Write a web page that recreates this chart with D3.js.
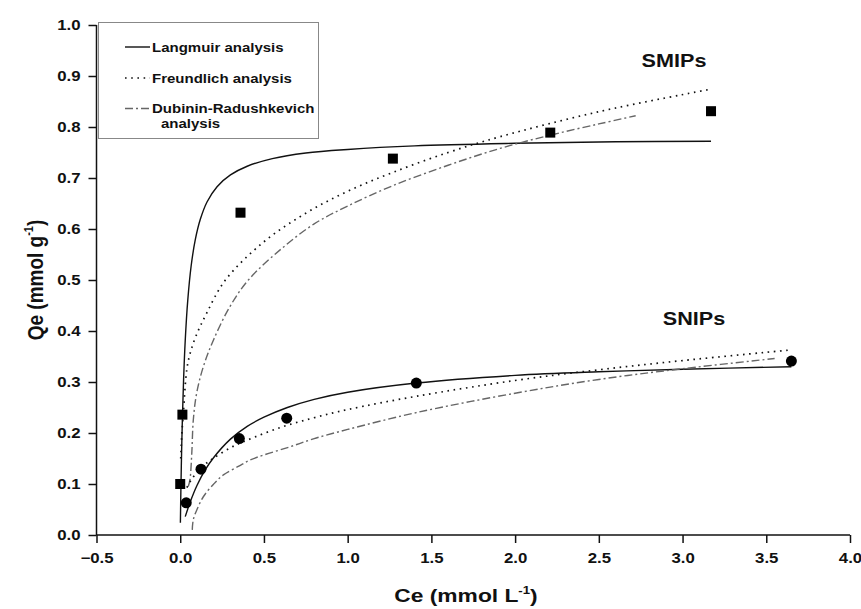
<!DOCTYPE html>
<html><head><meta charset="utf-8">
<script src="https://cdn.jsdelivr.net/npm/d3@7"></script>
<style>body{margin:0;background:#fff}svg{display:block}text{font-family:"Liberation Sans",Arial,sans-serif;font-weight:bold;fill:#111}</style>
</head><body>
<svg id="c" width="861" height="609"></svg>
<script>
// Measured points
const smipsCe = [0.0, 0.013, 0.36, 1.27, 2.21, 3.17];
const smipsQe = [0.100, 0.236, 0.632, 0.738, 0.789, 0.831];
const snipsCe = [0.036, 0.124, 0.353, 0.636, 1.41, 3.65];
const snipsQe = [0.063, 0.129, 0.189, 0.229, 0.298, 0.341];
// Fitted curves
const langSmX = [0.001,0.004,0.008,0.013,0.02,0.03,0.045,0.065,0.09,0.12,0.16,0.22,0.3,0.4,0.55,0.75,1.0,1.4,2.0,2.6,3.17];
const langSmY = [0.024,0.089,0.159,0.229,0.304,0.382,0.46,0.527,0.579,0.619,0.653,0.683,0.706,0.723,0.738,0.749,0.756,0.763,0.768,0.771,0.772];
const freuSmX = [0.003,0.01,0.019,0.039,0.059,0.094,0.158,0.27,0.5,0.75,1.0,1.27,1.6,1.91,2.5,3.15];
const freuSmY = [0.15,0.2,0.24,0.324,0.356,0.39,0.435,0.5,0.575,0.631,0.674,0.711,0.75,0.781,0.83,0.873];
const drSmX = [0.048,0.058,0.069,0.078,0.098,0.138,0.198,0.297,0.407,0.6,0.8,1.0,1.27,1.6,1.91,2.21,2.5,2.72];
const drSmY = [0.095,0.108,0.16,0.225,0.278,0.33,0.382,0.448,0.5,0.56,0.61,0.645,0.685,0.725,0.758,0.784,0.806,0.822];
const langSnX = [0.03,0.06,0.1,0.15,0.2,0.3,0.4,0.5,0.64,0.8,1.0,1.41,2.0,2.5,3.0,3.65];
const langSnY = [0.036,0.065,0.097,0.128,0.152,0.188,0.213,0.231,0.25,0.266,0.28,0.298,0.313,0.32,0.325,0.33];
const freuSnX = [0.04,0.06,0.1,0.15,0.2,0.3,0.4,0.6,0.8,1.0,1.41,2.0,2.5,3.0,3.65];
const freuSnY = [0.093,0.105,0.123,0.139,0.151,0.171,0.186,0.211,0.23,0.246,0.272,0.303,0.324,0.342,0.363];
const drSnX = [0.072,0.078,0.1,0.138,0.2,0.258,0.35,0.417,0.5,0.656,0.8,1.0,1.41,2.0,2.5,3.0,3.55];
const drSnY = [0.01,0.03,0.05,0.075,0.1,0.118,0.135,0.147,0.157,0.173,0.189,0.207,0.24,0.278,0.305,0.326,0.346];
const xTicks = [-0.5,0.0,0.5,1.0,1.5,2.0,2.5,3.0,3.5,4.0];
const yTicks = [0.0,0.1,0.2,0.3,0.4,0.5,0.6,0.7,0.8,0.9,1.0];
const legendLabels = ["Langmuir analysis","Freundlich analysis","Dubinin-Radushkevich"];

const SX = 1.2; // horizontal text stretch
const svg = d3.select("#c");
const x = d3.scaleLinear().domain([-0.5,4.0]).range([96.5,850]);
const y = d3.scaleLinear().domain([0,1]).range([535,25]);

// minor ticks
const gx = svg.append("g").attr("transform","translate(0,535)");
gx.call(d3.axisBottom(x).tickValues(d3.range(-0.25,4.0,0.5)).tickSize(5).tickFormat(""));
gx.call(d3.axisBottom(x).tickValues(xTicks).tickSize(8).tickFormat(d3.format(".1f")));
gx.selectAll("path,line").attr("stroke","#111").attr("stroke-width",1.5);
gx.selectAll("text").attr("y",28).attr("dy",0).attr("font-size",14).attr("font-family","Liberation Sans, Arial, sans-serif").attr("font-weight","bold").attr("fill","#111").attr("transform",`scale(${SX},1)`);
gx.select(".domain").attr("d","M96.5,0H850");

const gy = svg.append("g").attr("transform","translate(96.5,0)");
gy.call(d3.axisLeft(y).tickValues(d3.range(0.05,1.0,0.1)).tickSize(5).tickFormat(""));
gy.call(d3.axisLeft(y).tickValues(yTicks).tickSize(8).tickFormat(d3.format(".1f")));
gy.selectAll("path,line").attr("stroke","#111").attr("stroke-width",1.5);
gy.selectAll("text").attr("x",-16/SX).attr("dy","0.35em").attr("font-size",14).attr("font-family","Liberation Sans, Arial, sans-serif").attr("font-weight","bold").attr("fill","#111").attr("transform",`scale(${SX},1)`);
gy.select(".domain").attr("d","M0,25V535");

// curves
const line = d3.line().x(d=>x(d[0])).y(d=>y(d[1])).curve(d3.curveCatmullRom.alpha(0.5));
const zip = (a,b)=>a.map((v,i)=>[v,b[i]]);
const styles = {
  lang:{stroke:"#111",w:1.4,dash:null},
  freu:{stroke:"#111",w:1.7,dash:"1.6,4.6"},
  dr:{stroke:"#666",w:1.4,dash:"8,3,2,3"}
};
function drawCurve(xs,ys,s){
  svg.append("path").attr("d",line(zip(xs,ys))).attr("fill","none")
    .attr("stroke",s.stroke).attr("stroke-width",s.w).attr("stroke-dasharray",s.dash);
}
drawCurve(langSmX,langSmY,styles.lang);
drawCurve(freuSmX,freuSmY,styles.freu);
drawCurve(drSmX,drSmY,styles.dr);
drawCurve(langSnX,langSnY,styles.lang);
drawCurve(freuSnX,freuSnY,styles.freu);
drawCurve(drSnX,drSnY,styles.dr);

// markers
svg.append("g").selectAll("rect").data(zip(smipsCe,smipsQe)).join("rect")
  .attr("x",d=>x(d[0])-5).attr("y",d=>y(d[1])-5).attr("width",10).attr("height",10).attr("fill","#000");
svg.append("g").selectAll("circle").data(zip(snipsCe,snipsQe)).join("circle")
  .attr("cx",d=>x(d[0])).attr("cy",d=>y(d[1])).attr("r",5.5).attr("fill","#000");

// labels
function stext(tx,ty,str,size,anchor){
  return svg.append("text").attr("transform",`translate(${tx},${ty}) scale(${SX},1)`)
    .attr("font-size",size).attr("text-anchor",anchor||"start").text(str);
}
stext(674,67,"SMIPs",18,"middle");
stext(694,325,"SNIPs",18,"middle");

// axis titles
const xt = svg.append("text").attr("transform",`translate(466,602) scale(${SX},1)`).attr("font-size",19).attr("text-anchor","middle");
xt.append("tspan").text("Ce (mmol L");
xt.append("tspan").attr("font-size",11).attr("dy",-8).text("-1");
xt.append("tspan").attr("dy",8).text(")");
const yt = svg.append("text").attr("transform",`translate(43,280) rotate(-90) scale(1,${SX})`).attr("font-size",19).attr("text-anchor","middle");
yt.append("tspan").text("Qe (mmol g");
yt.append("tspan").attr("font-size",11).attr("dy",-8).text("-1");
yt.append("tspan").attr("dy",8).text(")");

// legend
const lg = svg.append("g");
lg.append("rect").attr("x",98.5).attr("y",22.5).attr("width",220).attr("height",116).attr("fill","#fff").attr("stroke","#888").attr("stroke-width",1);
const legStyles = [styles.lang,styles.freu,styles.dr];
const rowY = [47,78,108.5];
legendLabels.forEach((t,i)=>{
  const s = legStyles[i];
  lg.append("line").attr("x1",125).attr("x2",150).attr("y1",rowY[i]).attr("y2",rowY[i])
    .attr("stroke",s.stroke).attr("stroke-width",s.w).attr("stroke-dasharray",s.dash);
  lg.append("text").attr("transform",`translate(152,${rowY[i]+4.5}) scale(${SX},1)`).attr("font-size",12.5).text(t);
});
lg.append("text").attr("transform",`translate(161,128) scale(${SX},1)`).attr("font-size",12.5).text("analysis");
</script>
</body></html>
